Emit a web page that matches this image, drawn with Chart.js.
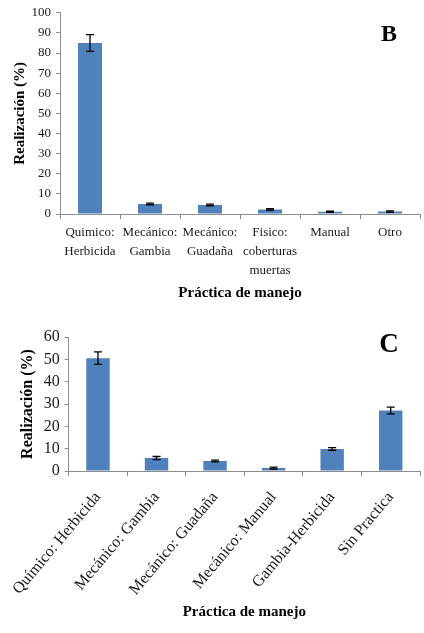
<!DOCTYPE html>
<html>
<head>
<meta charset="utf-8">
<script src="https://cdn.jsdelivr.net/npm/chart.js@4.4.1/dist/chart.umd.min.js"></script>
<style>
  html, body { margin: 0; padding: 0; background: #fff; }
  #wrap-b { position: absolute; left: 0; top: 0; width: 424px; height: 318px; }
  #wrap-c { position: absolute; left: 0; top: 318px; width: 424px; height: 315px; }
</style>
</head>
<body>
<div id="wrap-b"><canvas id="chart-b"></canvas></div>
<div id="wrap-c"><canvas id="chart-c"></canvas></div>
<script>
// datos panel B
const labelsB = [['Quimico:', 'Herbicida'], ['Mecánico:', 'Gambia'], ['Mecánico:', 'Guadaña'], ['Fisico:', 'coberturas', 'muertas'], 'Manual', 'Otro'];
const valuesB = [85, 5.0, 4.5, 2.2, 1.1, 1.2];
const errorsB = [4.2, 0.4, 0.4, 0.4, 0.3, 0.4];
const ticksB = [0, 10, 20, 30, 40, 50, 60, 70, 80, 90, 100];

// datos panel C
const labelsC = ['Químico: Herbicida', 'Mecánico: Gambia', 'Mecánico: Guadaña', 'Mecánico: Manual', 'Gambia-Herbicida', 'Sin Practica'];
const valuesC = [50.5, 5.8, 4.5, 1.3, 9.9, 27.1];
const errorsC = [2.8, 0.7, 0.4, 0.4, 0.6, 1.5];
const ticksC = [0, 10, 20, 30, 40, 50, 60];

const SERIF = "'Liberation Serif', 'DejaVu Serif', serif";
const BLUE = '#4f81bd';
const AXIS = '#8c8c8c';

// barras de error (media +- error)
const errorBars = {
  id: 'errorBars',
  afterDatasetsDraw(chart, args, opts) {
    const { ctx, scales: { x, y } } = chart;
    ctx.save();
    ctx.strokeStyle = '#000';
    ctx.lineWidth = 1.3;
    opts.errors.forEach((e, i) => {
      const v = chart.data.datasets[0].data[i];
      const px = x.getPixelForValue(i);
      const top = y.getPixelForValue(v + e);
      const bot = y.getPixelForValue(v - e);
      ctx.beginPath();
      ctx.moveTo(px, top); ctx.lineTo(px, bot);
      ctx.moveTo(px - 4, top); ctx.lineTo(px + 4, top);
      ctx.moveTo(px - 4, bot); ctx.lineTo(px + 4, bot);
      ctx.stroke();
    });
    ctx.restore();
  }
};

// letra del panel
const panelLetter = {
  id: 'panelLetter',
  afterDraw(chart, args, opts) {
    const { ctx, chartArea } = chart;
    ctx.save();
    ctx.fillStyle = '#000';
    ctx.font = 'bold ' + opts.size + 'px ' + SERIF;
    ctx.textAlign = 'center';
    ctx.textBaseline = 'alphabetic';
    ctx.fillText(opts.text, chartArea.right - 31, chartArea.top + opts.dy);
    ctx.restore();
  }
};

function makeChart(el, cfg) {
  return new Chart(document.querySelector(el), {
    type: 'bar',
    data: {
      labels: cfg.labels,
      datasets: [{
        data: cfg.values,
        backgroundColor: BLUE,
        borderWidth: 0,
        categoryPercentage: 1,
        barPercentage: 0.4
      }]
    },
    options: {
      responsive: true,
      maintainAspectRatio: false,
      animation: false,
      layout: { padding: { left: 0, right: 4, top: cfg.top, bottom: 0 } },
      plugins: {
        legend: { display: false },
        tooltip: { enabled: false },
        errorBars: { errors: cfg.errors },
        panelLetter: { text: cfg.letter, size: cfg.letterSize, dy: cfg.letterDy }
      },
      scales: {
        x: {
          afterFit: (s) => { s.height = cfg.xHeight; },
          grid: { offset: true, drawOnChartArea: false, color: AXIS, tickLength: 5 },
          border: { color: AXIS, width: 1 },
          ticks: {
            color: '#1a1a1a',
            autoSkip: false,
            minRotation: cfg.rotation,
            maxRotation: cfg.rotation,
            padding: cfg.xPad,
            font: { family: SERIF, size: cfg.xFont, lineHeight: 1.45 }
          },
          title: {
            display: true,
            text: 'Práctica de manejo',
            color: '#000',
            font: { family: SERIF, size: 15, weight: 'bold' },
            padding: { top: 0, bottom: cfg.xTitlePad }
          }
        },
        y: {
          min: 0,
          max: cfg.ticks[cfg.ticks.length - 1],
          afterFit: (s) => { s.width = 60; },
          afterBuildTicks: (s) => { s.ticks = cfg.ticks.map((v) => ({ value: v })); },
          grid: { drawOnChartArea: false, color: AXIS, tickLength: 4 },
          border: { color: AXIS, width: 1 },
          ticks: {
            color: '#1a1a1a',
            padding: 5,
            font: { family: SERIF, size: cfg.yFont }
          },
          title: {
            display: true,
            text: 'Realización (%)',
            color: '#000',
            font: { family: SERIF, size: cfg.yTitleFont, weight: 'bold' },
            padding: { top: cfg.yTitlePad, bottom: 0 }
          }
        }
      }
    },
    plugins: [errorBars, panelLetter]
  });
}

makeChart('#chart-b', {
  labels: labelsB, values: valuesB, errors: errorsB, ticks: ticksB,
  top: 8, xHeight: 104, rotation: 0, xPad: 4, xFont: 13, xTitlePad: 16,
  yFont: 13, yTitleFont: 15, yTitlePad: 11,
  letter: 'B', letterSize: 24, letterDy: 28
});

makeChart('#chart-c', {
  labels: labelsC, values: valuesC, errors: errorsC, ticks: ticksC,
  top: 19, xHeight: 162, rotation: 50, xPad: 11, xFont: 16, xTitlePad: 12,
  yFont: 16, yTitleFont: 16, yTitlePad: 10,
  letter: 'C', letterSize: 27, letterDy: 15
});
</script>
</body>
</html>
